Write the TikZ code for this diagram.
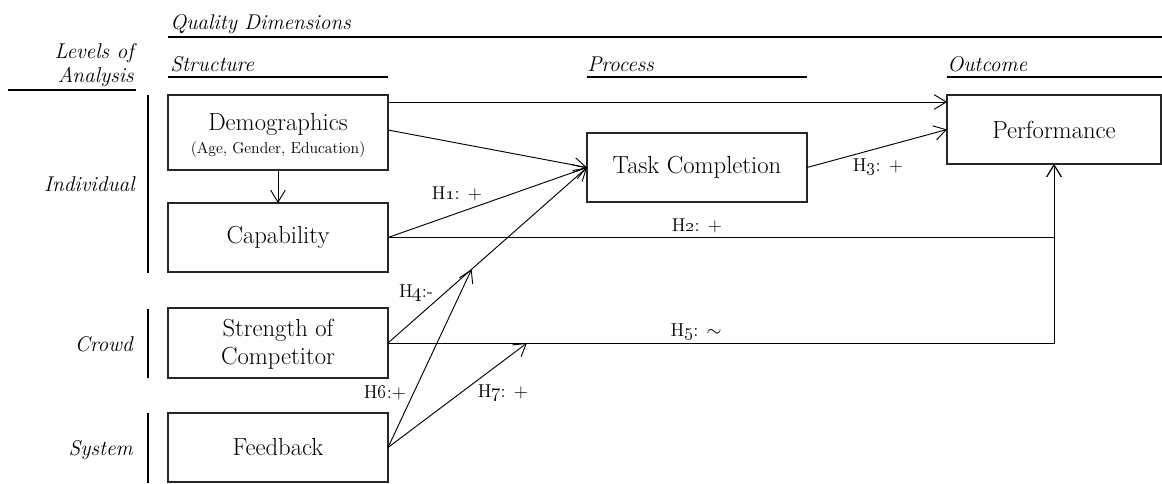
\documentclass[tikz,border=0pt]{standalone}
\usetikzlibrary{arrows.meta,calc}
\begin{document}
\begin{tikzpicture}[x=0.75pt,y=-0.75pt,
  box/.style={draw=black!85, line width=0.8pt, minimum width=165pt, inner sep=0pt, outer sep=0pt},
  boxtext/.style={align=center, inner sep=0pt, font=\fontsize{18.5}{21}\selectfont},
  arr/.style={-{Straight Barb[length=9pt,width=11pt]}, line width=0.7pt},
  hyp/.style={font=\fontsize{14}{16}\selectfont, inner sep=0pt},
  head/.style={font=\fontsize{16}{17.5}\selectfont\itshape, inner sep=0pt},
  rule/.style={line width=1pt},
  bar/.style={line width=1pt}]
\useasboundingbox (0,0) rectangle (1162,483);

% column and row headings
\node[head, anchor=base west] (quality) at (170,29) {Quality Dimensions};
\draw[rule] (168,37) -- (1162,37);
\node[head, anchor=base west] (structure) at (170,71) {Structure};
\draw[rule] (168,77) -- (388,77);
\node[head, anchor=base west] (process) at (587,71) {Process};
\draw[rule] (587,77) -- (807,77);
\node[head, anchor=base west] (outcome) at (947,71) {Outcome};
\draw[rule] (947,77) -- (1162,77);
\node[head, anchor=base east, align=right] (levels) at (134,82) {Levels of\\Analysis};
\draw[rule] (8,90) -- (136,90);

\node[head, anchor=base east] (individual) at (135,191) {Individual};
\node[head, anchor=base east] (crowd) at (133,351) {Crowd};
\node[head, anchor=base east] (system) at (133,455) {System};
\draw[bar] (148,95) -- (148,273);
\draw[bar] (148,309) -- (148,378);
\draw[bar] (148,413) -- (148,483);

% constructs
\node[box, minimum height=56.25pt] (demo) at (278,132.5) {};
\node[boxtext] (demotext) at ($(demo.center)+(0,3)$)
  {Demographics\\[-4pt]{\fontsize{11.8}{13}\selectfont (Age, Gender, Education)}};
\node[box, minimum height=51.75pt] (cap) at (278,237.5) {};
\node[boxtext] (captext) at (cap.center) {Capability};
\node[box, minimum height=52.5pt] (comp) at (278,343) {};
\node[boxtext] (comptext) at ($(comp.center)+(0,1)$) {Strength of\\Competitor};
\node[box, minimum height=51.75pt] (feed) at (278,447.5) {};
\node[boxtext] (feedtext) at (feed.center) {Feedback};
\node[box, minimum height=51.75pt] (task) at (697,167.5) {};
\node[boxtext] (tasktext) at (task.center) {Task Completion};
\node[box, minimum height=51.75pt, minimum width=160.5pt] (perf) at (1054,129.5) {};
\node[boxtext] (perftext) at (perf.center) {Performance};

% paths
\draw[arr] ($(demo.north east)+(0,7)$) -- ($(perf.north west)+(0,7)$);
\draw[arr] ($(demo.east)+(0,-2.5)$) -- (task.west);
\draw[arr] (demo.south) -- (cap.north);
\draw[arr] (cap.east) -- (task.west);
\draw[arr] (cap.east) -| (perf.south);
\draw[arr] (task.east) -- (perf.west);
\draw[arr] (comp.east) -- (task.west);
\draw[arr] (comp.east) -| (perf.south);
\coordinate (mod4) at ($(comp.east)!0.42!(task.west)$);
\coordinate (mod5) at ($(comp.east)+(139,0)$);
\draw[arr] (feed.east) -- (mod4);
\draw[arr] (feed.east) -- (mod5);

% hypotheses
\node[hyp] (h1) at (457,194) {H\oldstylenums{1}: +};
\node[hyp] (h2) at (697,226) {H\oldstylenums{2}: +};
\node[hyp] (h3) at (878,167) {H\oldstylenums{3}: +};
\node[hyp] (h4) at (416,293) {H\oldstylenums{4}:-};
\node[hyp] (h5) at (696,332) {H\oldstylenums{5}: $\sim$};
\node[hyp] (h6) at (385,393) {H\oldstylenums{6}:+};
\node[hyp] (h7) at (503,393) {H\oldstylenums{7}: +};
\end{tikzpicture}
\end{document}
